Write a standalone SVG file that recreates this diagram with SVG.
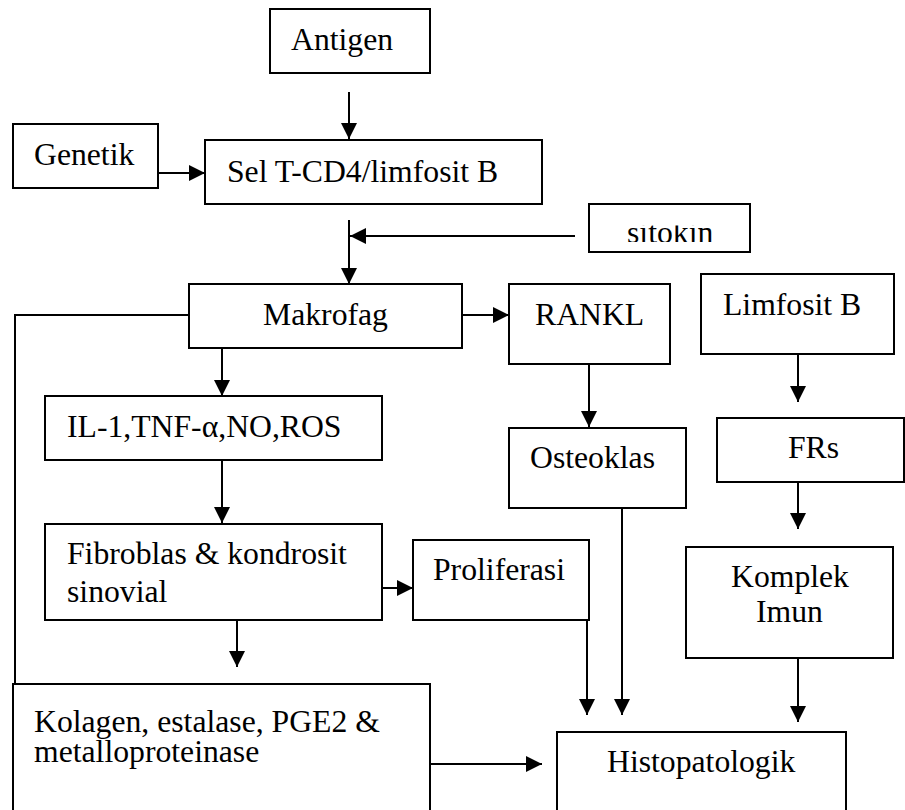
<svg xmlns="http://www.w3.org/2000/svg" width="905" height="810" viewBox="0 0 905 810">
<style>
rect.box{fill:#fff;stroke:#000;stroke-width:2}
text{font-family:"Liberation Serif","Times New Roman",serif;font-size:31.7px;fill:#000}
.c line,.c polyline{stroke:#000;stroke-width:2;fill:none}
</style>
<defs>
<marker id="ah" markerUnits="userSpaceOnUse" markerWidth="16" markerHeight="16" viewBox="0 0 14 14" refX="14" refY="7" orient="auto">
<path d="M0,0 L14,7 L0,14 Z" fill="#000"/>
</marker>
<clipPath id="sclip"><rect x="590" y="225.5" width="159" height="16.5"/></clipPath>
</defs>
<rect width="905" height="810" fill="#fff"/>
<g class="c">
<line x1="349" y1="92" x2="349" y2="139" marker-end="url(#ah)"/>
<line x1="158" y1="173" x2="205" y2="173" marker-end="url(#ah)"/>
<line x1="349" y1="220" x2="349" y2="284" marker-end="url(#ah)"/>
<line x1="575" y1="236" x2="350" y2="236" marker-end="url(#ah)"/>
<polyline points="189,315 15,315 15,684"/>
<line x1="462" y1="315" x2="509" y2="315" marker-end="url(#ah)"/>
<line x1="589" y1="364" x2="589" y2="427" marker-end="url(#ah)"/>
<line x1="222" y1="348" x2="222" y2="396" marker-end="url(#ah)"/>
<line x1="222" y1="460" x2="222" y2="523" marker-end="url(#ah)"/>
<line x1="382" y1="588" x2="413" y2="588" marker-end="url(#ah)"/>
<line x1="237" y1="620" x2="237" y2="667" marker-end="url(#ah)"/>
<line x1="798" y1="354" x2="798" y2="402" marker-end="url(#ah)"/>
<line x1="798" y1="482" x2="798" y2="529" marker-end="url(#ah)"/>
<line x1="798" y1="658" x2="798" y2="722" marker-end="url(#ah)"/>
<line x1="587" y1="620" x2="587" y2="715" marker-end="url(#ah)"/>
<line x1="622" y1="508" x2="622" y2="715" marker-end="url(#ah)"/>
<line x1="430" y1="764" x2="542" y2="764" marker-end="url(#ah)"/>
</g>
<g id="antigen"><rect class="box" x="270" y="9" width="160" height="64"/><text x="291" y="50">Antigen</text></g>
<g id="genetik"><rect class="box" x="13" y="124" width="145" height="64"/><text x="34" y="165">Genetik</text></g>
<g id="sel"><rect class="box" x="205" y="140" width="337" height="64"/><text x="227" y="182">Sel T-CD4/limfosit B</text></g>
<g id="sitokin"><rect class="box" x="589" y="204" width="161" height="48"/><text x="627" y="243" clip-path="url(#sclip)">sitokin</text></g>
<g id="makrofag"><rect class="box" x="189" y="284" width="273" height="64"/><text x="263" y="325">Makrofag</text></g>
<g id="rankl"><rect class="box" x="509" y="284" width="161" height="80"/><text x="535" y="325">RANKL</text></g>
<g id="limfositb"><rect class="box" x="701" y="274" width="193" height="80"/><text x="723" y="315">Limfosit B</text></g>
<g id="il1"><rect class="box" x="45" y="396" width="337" height="64"/><text x="67" y="437">IL-1,TNF-α,NO,ROS</text></g>
<g id="osteoklas"><rect class="box" x="509" y="428" width="177" height="80"/><text x="530" y="468">Osteoklas</text></g>
<g id="frs"><rect class="box" x="717" y="418" width="187" height="64"/><text x="788" y="458">FRs</text></g>
<g id="fibroblas"><rect class="box" x="45" y="524" width="337" height="96"/><text x="67" y="564">Fibroblas &amp; kondrosit</text><text x="67" y="602">sinovial</text></g>
<g id="proliferasi"><rect class="box" x="413" y="540" width="176" height="80"/><text x="433" y="580">Proliferasi</text></g>
<g id="komplek"><rect class="box" x="686" y="547" width="207" height="111"/><text x="731" y="587">Komplek</text><text x="756" y="622">Imun</text></g>
<g id="kolagen"><rect class="box" x="13" y="684" width="417" height="140"/><text x="34" y="732">Kolagen, estalase, PGE2 &amp;</text><text x="34" y="762">metalloproteinase</text></g>
<g id="histopatologik"><rect class="box" x="557" y="732" width="289" height="92"/><text x="607" y="772">Histopatologik</text></g>
</svg>
